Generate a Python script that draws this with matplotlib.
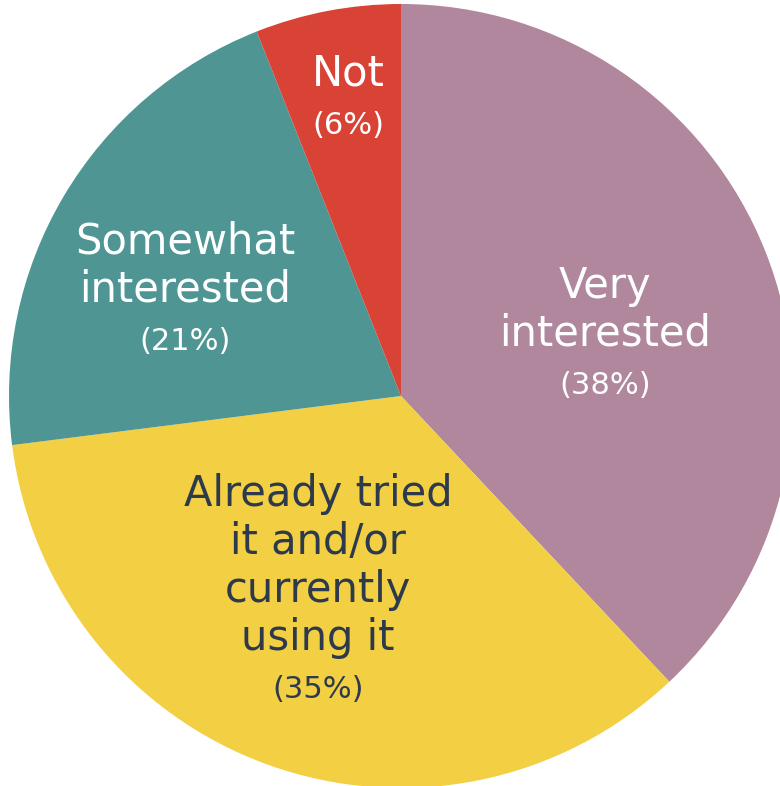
import matplotlib
matplotlib.use('Agg')
import matplotlib.pyplot as plt

plt.rcParams['font.family'] = ['DejaVu Sans']

# survey answers, clockwise from 12 o'clock
labels = ['Very\ninterested', 'Already tried\nit and/or\ncurrently\nusing it',
          'Somewhat\ninterested', 'Not']
shares = [38, 35, 21, 6]
colors = ['#B0879D', '#F3CF43', '#4E9593', '#D84335']
text_colors = ['white', '#2D3A4C', 'white', 'white']

# label anchors in pixel coords (x, top of name block)
anchors = [(605, 262), (318, 470), (185, 218), (348, 50)]

W, H = 780, 786
fig = plt.figure(figsize=(W / 100, H / 100), dpi=100)
ax = fig.add_axes([0, 0, 1, 1])

cx, cy, r = 401, H - 396, 392
ax.pie(shares, colors=colors, startangle=90, counterclock=False,
       center=(cx, cy), radius=r, frame=True,
       wedgeprops=dict(linewidth=0))
ax.set_xlim(0, W)
ax.set_ylim(0, H)
ax.axis('off')

line_h = 48
for lab, pct, tc, (x, y) in zip(labels, shares, text_colors, anchors):
    lines = lab.split('\n')
    for i, ln in enumerate(lines):
        ax.text(x, H - (y + line_h * i + line_h / 2), ln, ha='center', va='center',
                fontsize=30, color=tc)
    ax.text(x, H - (y + line_h * len(lines) + 27), f'({pct}%)', ha='center',
            va='center', fontsize=22, color=tc)

fig.savefig('out.png', dpi=100, facecolor='white')
